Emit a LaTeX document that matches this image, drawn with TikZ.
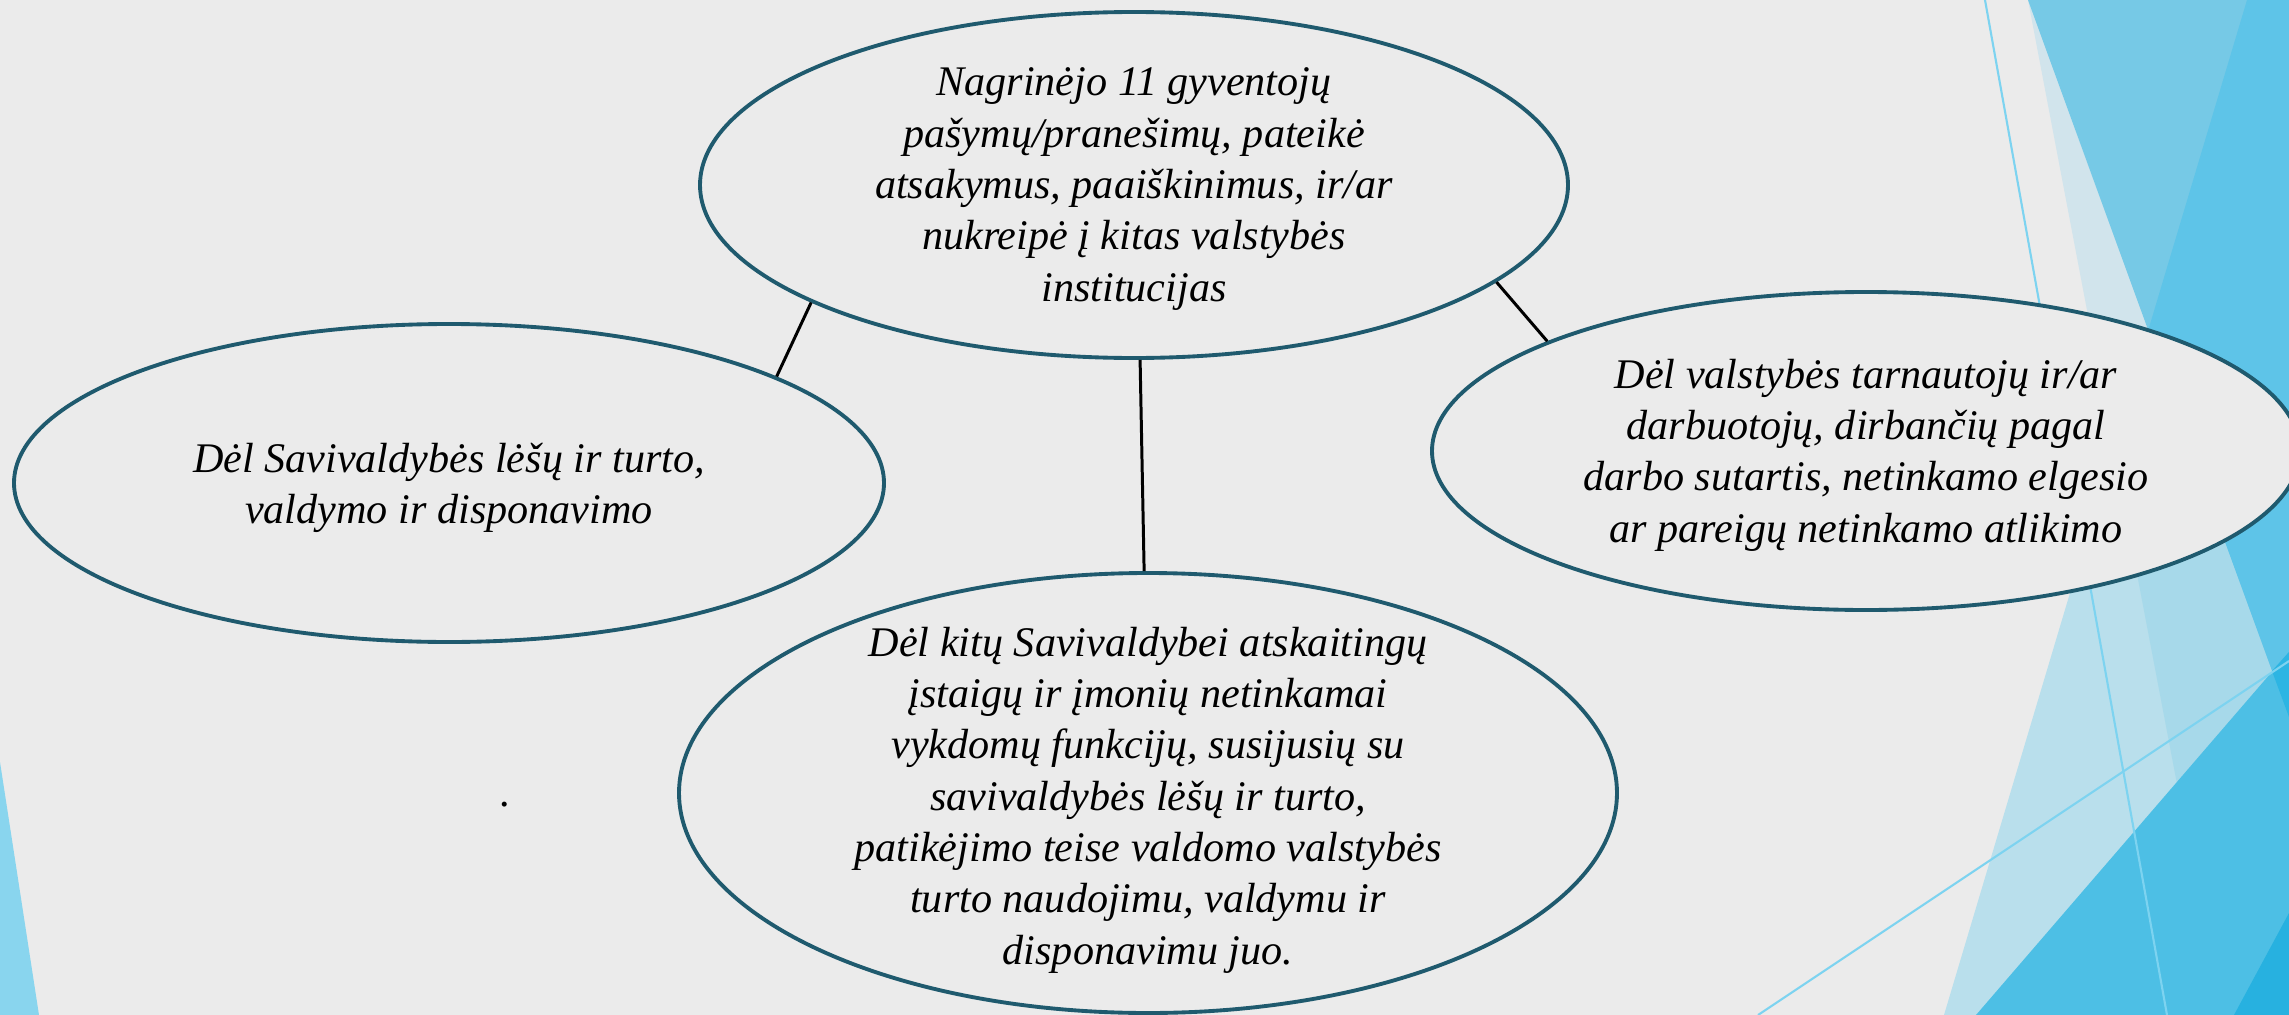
\documentclass[tikz,border=0pt]{standalone}
\usepackage{fontspec}
\setmainfont{Liberation Serif}
\usetikzlibrary{shapes.geometric}

\definecolor{slidebg}{HTML}{EBEBEB}
\definecolor{rimblue}{HTML}{1F5A6E}
\definecolor{facetA}{HTML}{D1E4EC}
\definecolor{facetB}{HTML}{B9DFEC}
\definecolor{facetC}{HTML}{A7D9EA}
\definecolor{facetD}{HTML}{76C9E6}
\definecolor{facetE}{HTML}{5EC4E8}
\definecolor{facetF}{HTML}{4DBFE5}
\definecolor{facetG}{HTML}{2DB5E3}
\definecolor{facetH}{HTML}{27B1E0}
\definecolor{facetL}{HTML}{89D5EE}
\definecolor{raylight}{HTML}{7DD3F0}

\tikzset{%
  every bubble/.style={
    ellipse,
    draw=rimblue,
    line width=1.1pt,
    fill=slidebg,
    inner sep=0pt
  },
  bubble text/.style={
    align=center,
    inner sep=0pt,
    font=\fontsize{12}{14.6}\selectfont\itshape
  },
  thin ray/.style={
    draw=raylight,
    line width=0.6pt
  },
  link/.style={
    draw=black,
    line width=0.85pt
  },
}

\begin{document}
\begin{tikzpicture}[x=0.1mm, y=-0.1mm]

\clip (0,0) rectangle (2289,1015);
\fill [slidebg] (0,0) rectangle (2289,1015);

% facets
\fill [facetA] (2028,0) -- (2289,0) -- (2289,1015) -- (2221,1015) -- cycle;
\fill [facetB] (2247,0) -- (2289,0) -- (2289,1015) -- (1944,1015) -- cycle;
\fill [facetC] (2247,0) -- (2289,0) -- (2289,1015) -- (2221,1015) -- (2113,448) -- cycle;
\fill [facetD] (2028,0) -- (2289,0) -- (2289,717) -- cycle;
\fill [facetE] (2247,0) -- (2289,0) -- (2289,717) -- (2148,331) -- cycle;
\fill [facetF] (2289,652) -- (2289,1015) -- (1976,1015) -- cycle;
\fill [facetG] (2289,652) -- (2272,671) -- (2289,717) -- cycle;
\fill [facetH] (2289,913) -- (2289,1015) -- (2234,1015) -- cycle;
\fill [facetL] (0,762) -- (39,1015) -- (0,1015) -- cycle;

\draw [thin ray] (1985,0) -- (2167,1015);
\draw [thin ray] (1758,1015) -- (2289,661);

\foreach \m/\x/\y/\w/\h in {top/1134/185/8.68/3.46,
                             left/449/483/8.70/3.18,
                             right/1866/451/8.68/3.18,
                             bottom/1148/793/9.38/4.40}
  \node [every bubble/.try, minimum width=\w cm, minimum height=\h cm] (\m) at (\x,\y) {};

\draw [link] (top.200) -- (left.18.5);
\draw [link] (top.272) -- (bottom.91);
\draw [link] (top.345) -- (right.161);

\node [bubble text] (top-text) at (1134,189)
  {Nagrinėjo 11 gyventojų\\ pašymų/pranešimų, pateikė\\ atsakymus, paaiškinimus, ir/ar\\
   nukreipė į kitas valstybės\\ institucijas};
\node [bubble text] (left-text) at (449,488)
  {Dėl Savivaldybės lėšų ir turto,\\ valdymo ir disponavimo};
\node [bubble text] (right-text) at (1866,455)
  {Dėl valstybės tarnautojų ir/ar\\ darbuotojų, dirbančių pagal\\
   darbo sutartis, netinkamo elgesio\\ ar pareigų netinkamo atlikimo};
\node [bubble text] (bottom-text) at (1148,800)
  {Dėl kitų Savivaldybei atskaitingų\\ įstaigų ir įmonių netinkamai\\
   vykdomų funkcijų, susijusių su\\ savivaldybės lėšų ir turto,\\
   patikėjimo teise valdomo valstybės\\ turto naudojimu, valdymu ir\\
   disponavimu juo.};
\node [bubble text] (dot) at (506,805) {.};

\end{tikzpicture}
\end{document}
